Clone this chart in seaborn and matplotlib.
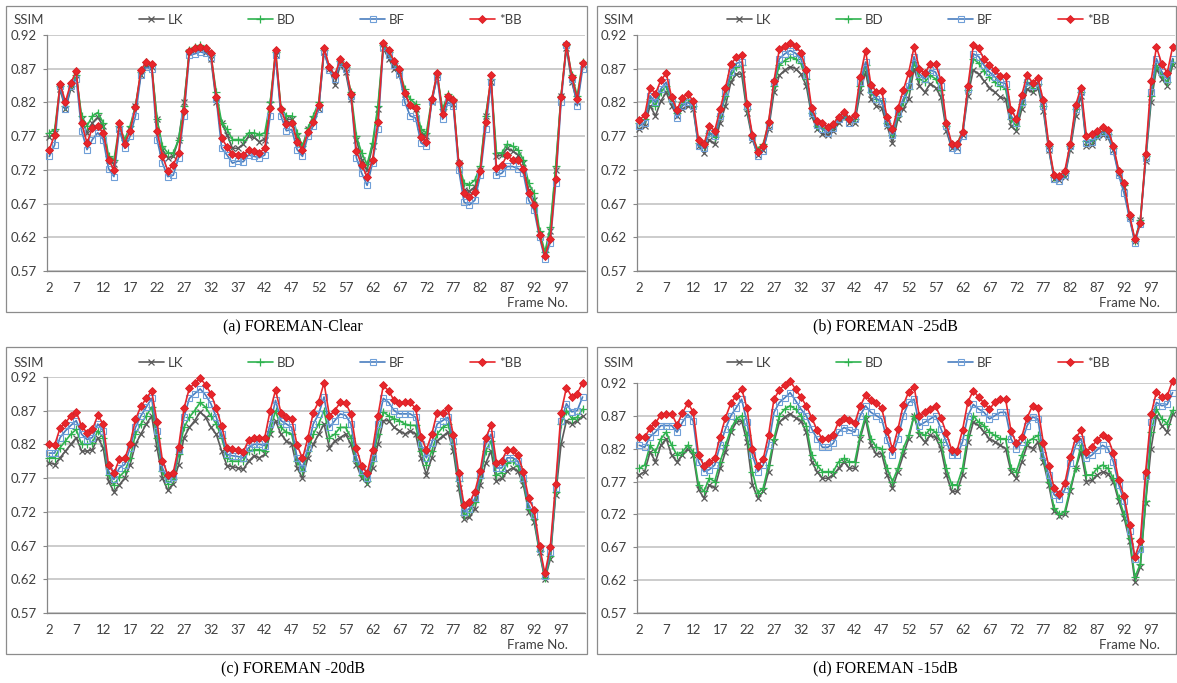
import numpy as np
import pandas as pd
import matplotlib
matplotlib.use("Agg")
import matplotlib.pyplot as plt
from matplotlib.patches import Rectangle
import seaborn as sns

# ---------------- data ----------------
frames = list(range(2, 102))
methods = ["LK", "BD", "BF", "*BB"]
y_ticks = [0.57, 0.62, 0.67, 0.72, 0.77, 0.82, 0.87, 0.92]
x_tick_labels = list(range(2, 101, 5))
captions = ["(a) FOREMAN-Clear", "(b) FOREMAN -25dB", "(c) FOREMAN -20dB", "(d) FOREMAN -15dB"]

A_LK = [0.768, 0.775, 0.840, 0.810, 0.840, 0.860, 0.795, 0.775, 0.790, 0.798,
        0.785, 0.735, 0.728, 0.780, 0.760, 0.780, 0.815, 0.860, 0.875, 0.872,
        0.795, 0.750, 0.738, 0.740, 0.765, 0.820, 0.895, 0.898, 0.900, 0.895,
        0.885, 0.820, 0.790, 0.772, 0.752, 0.752, 0.758, 0.770, 0.768, 0.762,
        0.765, 0.818, 0.890, 0.808, 0.795, 0.795, 0.770, 0.752, 0.780, 0.795,
        0.810, 0.895, 0.870, 0.846, 0.875, 0.865, 0.825, 0.765, 0.735, 0.720,
        0.755, 0.810, 0.900, 0.885, 0.870, 0.860, 0.832, 0.815, 0.810, 0.775,
        0.770, 0.820, 0.860, 0.805, 0.825, 0.818, 0.730, 0.690, 0.688, 0.695,
        0.720, 0.800, 0.850, 0.740, 0.742, 0.752, 0.748, 0.742, 0.730, 0.690,
        0.675, 0.625, 0.595, 0.630, 0.720, 0.830, 0.900, 0.850, 0.820, 0.875]
A_BD = [0.775, 0.780, 0.845, 0.815, 0.845, 0.860, 0.800, 0.785, 0.800, 0.805,
        0.790, 0.740, 0.735, 0.785, 0.765, 0.785, 0.815, 0.865, 0.880, 0.875,
        0.795, 0.755, 0.745, 0.745, 0.765, 0.815, 0.898, 0.902, 0.905, 0.900,
        0.890, 0.835, 0.790, 0.780, 0.765, 0.765, 0.765, 0.775, 0.775, 0.772,
        0.775, 0.820, 0.895, 0.812, 0.800, 0.800, 0.775, 0.755, 0.782, 0.800,
        0.820, 0.898, 0.872, 0.860, 0.882, 0.872, 0.835, 0.770, 0.745, 0.728,
        0.760, 0.815, 0.905, 0.895, 0.878, 0.868, 0.840, 0.825, 0.818, 0.780,
        0.775, 0.825, 0.862, 0.810, 0.832, 0.825, 0.730, 0.700, 0.698, 0.705,
        0.725, 0.800, 0.855, 0.745, 0.745, 0.758, 0.755, 0.750, 0.735, 0.700,
        0.685, 0.630, 0.598, 0.635, 0.725, 0.830, 0.905, 0.860, 0.830, 0.880]
A_BF = [0.740, 0.757, 0.845, 0.810, 0.845, 0.855, 0.778, 0.750, 0.765, 0.775,
        0.765, 0.722, 0.710, 0.780, 0.752, 0.770, 0.800, 0.860, 0.872, 0.870,
        0.765, 0.730, 0.710, 0.712, 0.738, 0.800, 0.890, 0.892, 0.895, 0.893,
        0.888, 0.825, 0.752, 0.742, 0.730, 0.733, 0.732, 0.742, 0.740, 0.738,
        0.742, 0.800, 0.890, 0.800, 0.778, 0.780, 0.750, 0.740, 0.770, 0.785,
        0.810, 0.895, 0.868, 0.855, 0.878, 0.870, 0.830, 0.738, 0.715, 0.697,
        0.730, 0.780, 0.902, 0.890, 0.875, 0.862, 0.820, 0.800, 0.797, 0.760,
        0.755, 0.822, 0.858, 0.795, 0.820, 0.815, 0.720, 0.672, 0.668, 0.675,
        0.712, 0.780, 0.850, 0.712, 0.715, 0.725, 0.725, 0.722, 0.715, 0.675,
        0.660, 0.620, 0.588, 0.612, 0.700, 0.820, 0.905, 0.855, 0.815, 0.870]
A_BB = [0.750, 0.772, 0.848, 0.821, 0.849, 0.866, 0.789, 0.760, 0.782, 0.785,
        0.775, 0.735, 0.720, 0.790, 0.759, 0.778, 0.813, 0.868, 0.880, 0.877,
        0.777, 0.740, 0.719, 0.727, 0.745, 0.808, 0.897, 0.900, 0.902, 0.900,
        0.893, 0.828, 0.767, 0.754, 0.743, 0.742, 0.742, 0.750, 0.748, 0.745,
        0.752, 0.811, 0.898, 0.810, 0.788, 0.790, 0.762, 0.750, 0.776, 0.791,
        0.816, 0.901, 0.873, 0.860, 0.884, 0.875, 0.833, 0.748, 0.727, 0.710,
        0.735, 0.791, 0.908, 0.898, 0.881, 0.870, 0.834, 0.816, 0.811, 0.769,
        0.762, 0.825, 0.864, 0.803, 0.829, 0.823, 0.730, 0.686, 0.680, 0.687,
        0.718, 0.791, 0.861, 0.723, 0.727, 0.742, 0.734, 0.735, 0.721, 0.685,
        0.668, 0.623, 0.592, 0.617, 0.707, 0.828, 0.906, 0.858, 0.825, 0.878]

B_LK = [0.780, 0.785, 0.815, 0.800, 0.822, 0.835, 0.815, 0.800, 0.810, 0.815,
        0.810, 0.755, 0.745, 0.765, 0.758, 0.790, 0.815, 0.850, 0.862, 0.862,
        0.805, 0.765, 0.742, 0.750, 0.780, 0.835, 0.860, 0.868, 0.873, 0.870,
        0.862, 0.845, 0.800, 0.780, 0.773, 0.772, 0.778, 0.790, 0.797, 0.790,
        0.790, 0.835, 0.865, 0.825, 0.815, 0.812, 0.785, 0.760, 0.795, 0.810,
        0.825, 0.870, 0.845, 0.835, 0.848, 0.842, 0.828, 0.778, 0.752, 0.752,
        0.772, 0.830, 0.868, 0.862, 0.852, 0.842, 0.835, 0.828, 0.825, 0.785,
        0.778, 0.810, 0.840, 0.835, 0.842, 0.808, 0.750, 0.707, 0.705, 0.710,
        0.750, 0.800, 0.830, 0.755, 0.757, 0.768, 0.772, 0.768, 0.750, 0.715,
        0.695, 0.650, 0.615, 0.645, 0.733, 0.820, 0.870, 0.855, 0.845, 0.875]
B_BD = [0.790, 0.795, 0.825, 0.815, 0.835, 0.845, 0.822, 0.805, 0.820, 0.825,
        0.815, 0.760, 0.755, 0.775, 0.768, 0.800, 0.830, 0.860, 0.872, 0.875,
        0.810, 0.770, 0.750, 0.758, 0.790, 0.845, 0.875, 0.882, 0.887, 0.885,
        0.878, 0.855, 0.805, 0.785, 0.782, 0.780, 0.785, 0.795, 0.800, 0.795,
        0.795, 0.845, 0.875, 0.835, 0.825, 0.822, 0.790, 0.772, 0.800, 0.820,
        0.840, 0.880, 0.855, 0.850, 0.860, 0.855, 0.838, 0.785, 0.757, 0.758,
        0.778, 0.838, 0.885, 0.878, 0.866, 0.858, 0.850, 0.845, 0.840, 0.795,
        0.785, 0.818, 0.850, 0.842, 0.848, 0.815, 0.755, 0.710, 0.710, 0.715,
        0.755, 0.810, 0.835, 0.763, 0.765, 0.772, 0.777, 0.773, 0.752, 0.718,
        0.698, 0.650, 0.615, 0.645, 0.740, 0.830, 0.875, 0.860, 0.850, 0.880]
B_BF = [0.785, 0.790, 0.830, 0.820, 0.840, 0.850, 0.825, 0.797, 0.815, 0.820,
        0.815, 0.755, 0.752, 0.775, 0.770, 0.800, 0.835, 0.865, 0.878, 0.880,
        0.815, 0.768, 0.740, 0.748, 0.785, 0.850, 0.885, 0.892, 0.897, 0.893,
        0.885, 0.860, 0.805, 0.787, 0.780, 0.775, 0.782, 0.795, 0.800, 0.790,
        0.795, 0.850, 0.880, 0.838, 0.825, 0.822, 0.790, 0.772, 0.805, 0.825,
        0.845, 0.888, 0.862, 0.855, 0.868, 0.865, 0.845, 0.785, 0.752, 0.750,
        0.770, 0.840, 0.892, 0.888, 0.875, 0.865, 0.858, 0.850, 0.848, 0.800,
        0.790, 0.820, 0.850, 0.845, 0.850, 0.815, 0.753, 0.707, 0.703, 0.712,
        0.755, 0.810, 0.835, 0.760, 0.762, 0.772, 0.776, 0.772, 0.748, 0.712,
        0.685, 0.648, 0.612, 0.640, 0.738, 0.835, 0.885, 0.865, 0.855, 0.885]
B_BB = [0.794, 0.801, 0.842, 0.833, 0.853, 0.863, 0.828, 0.809, 0.827, 0.833,
        0.822, 0.764, 0.758, 0.785, 0.778, 0.810, 0.842, 0.877, 0.887, 0.890,
        0.818, 0.772, 0.747, 0.756, 0.791, 0.852, 0.899, 0.903, 0.908, 0.904,
        0.894, 0.868, 0.811, 0.793, 0.789, 0.784, 0.788, 0.799, 0.806, 0.796,
        0.801, 0.858, 0.897, 0.846, 0.836, 0.837, 0.798, 0.781, 0.811, 0.838,
        0.864, 0.902, 0.870, 0.863, 0.877, 0.877, 0.853, 0.789, 0.759, 0.758,
        0.776, 0.844, 0.905, 0.900, 0.884, 0.875, 0.868, 0.859, 0.859, 0.809,
        0.796, 0.831, 0.861, 0.849, 0.856, 0.823, 0.758, 0.712, 0.711, 0.719,
        0.759, 0.816, 0.842, 0.770, 0.773, 0.778, 0.783, 0.779, 0.756, 0.719,
        0.700, 0.653, 0.617, 0.641, 0.743, 0.852, 0.902, 0.877, 0.864, 0.902]

C_LK = [0.793, 0.790, 0.800, 0.810, 0.820, 0.830, 0.810, 0.810, 0.812, 0.830,
        0.815, 0.765, 0.750, 0.760, 0.770, 0.790, 0.820, 0.835, 0.850, 0.862,
        0.815, 0.770, 0.752, 0.762, 0.790, 0.830, 0.845, 0.855, 0.868, 0.860,
        0.845, 0.835, 0.810, 0.788, 0.787, 0.785, 0.783, 0.795, 0.803, 0.800,
        0.805, 0.835, 0.855, 0.835, 0.825, 0.820, 0.785, 0.770, 0.800, 0.820,
        0.835, 0.850, 0.815, 0.825, 0.830, 0.835, 0.820, 0.790, 0.770, 0.762,
        0.785, 0.820, 0.855, 0.855, 0.845, 0.840, 0.835, 0.840, 0.835, 0.800,
        0.775, 0.800, 0.825, 0.832, 0.838, 0.810, 0.755, 0.710, 0.712, 0.725,
        0.760, 0.792, 0.810, 0.765, 0.770, 0.780, 0.785, 0.780, 0.760, 0.720,
        0.705, 0.660, 0.620, 0.650, 0.745, 0.820, 0.855, 0.850, 0.855, 0.862]
C_BD = [0.800, 0.800, 0.815, 0.825, 0.835, 0.842, 0.820, 0.820, 0.822, 0.840,
        0.830, 0.775, 0.760, 0.772, 0.780, 0.800, 0.835, 0.850, 0.862, 0.875,
        0.830, 0.780, 0.762, 0.768, 0.805, 0.845, 0.860, 0.870, 0.882, 0.875,
        0.862, 0.850, 0.830, 0.800, 0.795, 0.795, 0.795, 0.810, 0.812, 0.812,
        0.810, 0.840, 0.870, 0.845, 0.838, 0.835, 0.795, 0.780, 0.810, 0.835,
        0.850, 0.870, 0.830, 0.835, 0.845, 0.845, 0.830, 0.795, 0.775, 0.765,
        0.795, 0.835, 0.868, 0.862, 0.858, 0.855, 0.850, 0.848, 0.848, 0.810,
        0.790, 0.810, 0.835, 0.845, 0.850, 0.820, 0.765, 0.715, 0.720, 0.735,
        0.770, 0.810, 0.825, 0.775, 0.778, 0.792, 0.795, 0.788, 0.765, 0.725,
        0.710, 0.662, 0.622, 0.655, 0.750, 0.850, 0.870, 0.858, 0.860, 0.872]
C_BF = [0.807, 0.807, 0.830, 0.840, 0.848, 0.855, 0.835, 0.827, 0.830, 0.850,
        0.840, 0.780, 0.768, 0.785, 0.790, 0.815, 0.845, 0.862, 0.875, 0.888,
        0.840, 0.785, 0.768, 0.772, 0.812, 0.860, 0.888, 0.895, 0.902, 0.893,
        0.880, 0.860, 0.835, 0.805, 0.803, 0.802, 0.800, 0.815, 0.820, 0.820,
        0.818, 0.850, 0.885, 0.855, 0.850, 0.845, 0.800, 0.785, 0.815, 0.850,
        0.865, 0.890, 0.845, 0.855, 0.865, 0.863, 0.850, 0.800, 0.780, 0.770,
        0.800, 0.850, 0.888, 0.882, 0.870, 0.865, 0.865, 0.865, 0.860, 0.820,
        0.800, 0.822, 0.850, 0.855, 0.860, 0.825, 0.770, 0.720, 0.725, 0.740,
        0.775, 0.820, 0.835, 0.785, 0.785, 0.800, 0.800, 0.795, 0.770, 0.730,
        0.715, 0.665, 0.625, 0.660, 0.755, 0.855, 0.880, 0.868, 0.870, 0.890]
C_BB = [0.820, 0.819, 0.844, 0.852, 0.862, 0.868, 0.847, 0.837, 0.842, 0.863,
        0.850, 0.789, 0.777, 0.798, 0.799, 0.821, 0.857, 0.876, 0.888, 0.899,
        0.853, 0.796, 0.775, 0.778, 0.816, 0.873, 0.903, 0.910, 0.918, 0.908,
        0.895, 0.873, 0.847, 0.814, 0.813, 0.811, 0.809, 0.826, 0.830, 0.830,
        0.830, 0.870, 0.900, 0.867, 0.860, 0.857, 0.819, 0.799, 0.829, 0.867,
        0.883, 0.911, 0.862, 0.870, 0.882, 0.881, 0.865, 0.814, 0.788, 0.777,
        0.812, 0.862, 0.907, 0.899, 0.885, 0.881, 0.882, 0.882, 0.873, 0.831,
        0.812, 0.835, 0.867, 0.867, 0.873, 0.834, 0.777, 0.730, 0.734, 0.750,
        0.781, 0.829, 0.848, 0.793, 0.796, 0.812, 0.811, 0.804, 0.779, 0.740,
        0.723, 0.669, 0.629, 0.668, 0.762, 0.867, 0.904, 0.890, 0.895, 0.911]

D_LK = [0.780, 0.785, 0.815, 0.800, 0.825, 0.835, 0.810, 0.800, 0.810, 0.820,
        0.810, 0.758, 0.745, 0.765, 0.760, 0.790, 0.815, 0.845, 0.860, 0.862,
        0.830, 0.765, 0.745, 0.755, 0.785, 0.830, 0.860, 0.868, 0.873, 0.867,
        0.862, 0.845, 0.800, 0.785, 0.775, 0.775, 0.780, 0.790, 0.800, 0.790,
        0.790, 0.835, 0.865, 0.825, 0.812, 0.812, 0.780, 0.760, 0.785, 0.810,
        0.835, 0.870, 0.840, 0.830, 0.840, 0.837, 0.820, 0.780, 0.755, 0.755,
        0.780, 0.830, 0.860, 0.855, 0.845, 0.835, 0.830, 0.825, 0.820, 0.785,
        0.775, 0.800, 0.825, 0.820, 0.830, 0.800, 0.765, 0.725, 0.718, 0.720,
        0.755, 0.790, 0.815, 0.770, 0.772, 0.780, 0.785, 0.782, 0.770, 0.740,
        0.715, 0.680, 0.618, 0.640, 0.738, 0.820, 0.870, 0.855, 0.845, 0.872]
D_BD = [0.790, 0.795, 0.825, 0.815, 0.835, 0.845, 0.825, 0.810, 0.815, 0.825,
        0.815, 0.765, 0.755, 0.775, 0.770, 0.800, 0.825, 0.850, 0.865, 0.870,
        0.840, 0.785, 0.752, 0.760, 0.795, 0.835, 0.870, 0.880, 0.885, 0.880,
        0.870, 0.855, 0.810, 0.795, 0.785, 0.785, 0.785, 0.800, 0.805, 0.800,
        0.800, 0.840, 0.870, 0.835, 0.822, 0.820, 0.790, 0.770, 0.790, 0.820,
        0.840, 0.870, 0.845, 0.840, 0.850, 0.845, 0.830, 0.790, 0.765, 0.765,
        0.790, 0.840, 0.870, 0.860, 0.855, 0.845, 0.840, 0.835, 0.835, 0.790,
        0.785, 0.810, 0.830, 0.835, 0.840, 0.805, 0.770, 0.730, 0.720, 0.725,
        0.760, 0.790, 0.825, 0.780, 0.780, 0.790, 0.795, 0.790, 0.775, 0.745,
        0.720, 0.685, 0.625, 0.645, 0.740, 0.845, 0.880, 0.865, 0.858, 0.878]
D_BF = [0.825, 0.822, 0.838, 0.845, 0.855, 0.855, 0.855, 0.845, 0.860, 0.872,
        0.862, 0.800, 0.785, 0.788, 0.795, 0.825, 0.850, 0.870, 0.882, 0.895,
        0.860, 0.810, 0.785, 0.795, 0.825, 0.875, 0.890, 0.897, 0.905, 0.893,
        0.880, 0.870, 0.850, 0.835, 0.822, 0.822, 0.828, 0.845, 0.852, 0.848,
        0.845, 0.870, 0.885, 0.875, 0.870, 0.865, 0.833, 0.810, 0.835, 0.870,
        0.890, 0.895, 0.855, 0.860, 0.865, 0.870, 0.850, 0.830, 0.810, 0.810,
        0.830, 0.870, 0.887, 0.880, 0.875, 0.865, 0.870, 0.875, 0.875, 0.835,
        0.820, 0.830, 0.855, 0.868, 0.865, 0.810, 0.780, 0.750, 0.743, 0.758,
        0.798, 0.825, 0.835, 0.805, 0.810, 0.818, 0.825, 0.820, 0.800, 0.765,
        0.740, 0.695, 0.652, 0.668, 0.778, 0.860, 0.890, 0.885, 0.887, 0.905]
D_BB = [0.837, 0.837, 0.851, 0.859, 0.871, 0.873, 0.873, 0.856, 0.874, 0.889,
        0.876, 0.810, 0.794, 0.799, 0.805, 0.838, 0.867, 0.889, 0.900, 0.911,
        0.881, 0.820, 0.794, 0.804, 0.841, 0.895, 0.909, 0.917, 0.923, 0.910,
        0.898, 0.885, 0.867, 0.848, 0.834, 0.836, 0.841, 0.861, 0.867, 0.863,
        0.859, 0.884, 0.901, 0.893, 0.889, 0.881, 0.847, 0.819, 0.849, 0.886,
        0.906, 0.914, 0.869, 0.876, 0.880, 0.884, 0.867, 0.843, 0.818, 0.817,
        0.848, 0.891, 0.908, 0.898, 0.889, 0.880, 0.890, 0.895, 0.895, 0.847,
        0.828, 0.838, 0.867, 0.885, 0.881, 0.829, 0.794, 0.760, 0.751, 0.768,
        0.807, 0.836, 0.848, 0.815, 0.823, 0.833, 0.841, 0.836, 0.813, 0.772,
        0.748, 0.704, 0.656, 0.679, 0.785, 0.872, 0.906, 0.898, 0.900, 0.923]

panel_data = [
    {"LK": A_LK, "BD": A_BD, "BF": A_BF, "*BB": A_BB},
    {"LK": B_LK, "BD": B_BD, "BF": B_BF, "*BB": B_BB},
    {"LK": C_LK, "BD": C_BD, "BF": C_BF, "*BB": C_BB},
    {"LK": D_LK, "BD": D_BD, "BF": D_BF, "*BB": D_BB},
]

# ---------------- style ----------------
sns.set_style("white")
plt.rcParams["font.family"] = ["Lato", "DejaVu Sans"]

W, H = 1177, 683
fig = plt.figure(figsize=(W / 100, H / 100), dpi=100)
fig.patch.set_facecolor("white")

styles = {
    "LK": dict(color="#5a5a5a", marker="x", markersize=4.5, markeredgewidth=0.9,
               markeredgecolor="#5a5a5a", markerfacecolor="#5a5a5a"),
    "BD": dict(color="#2fb34f", marker="+", markersize=5.5, markeredgewidth=0.9,
               markeredgecolor="#2fb34f", markerfacecolor="#2fb34f"),
    "BF": dict(color="#4a7ebf", marker="s", markersize=4, markeredgewidth=0.8,
               markeredgecolor="#6f9fd8", markerfacecolor="none"),
    "*BB": dict(color="#e8262b", marker="D", markersize=4, markeredgewidth=0.6,
                markeredgecolor="#d81e24", markerfacecolor="#e8262b"),
}

TXT = "#404040"
AXC = "#868686"
FS = 9.5

# pixel layouts: axes (l, t, r, b), box (l, t, r, b), caption (x, y), legend (x, y), ssim (x,y), frame (x,y)
layouts = [
    dict(ax=(46.6, 35, 585.3, 271), box=(6, 6, 587, 312), cap=(293, 326),
         leg=(330, 20), ssim=(29, 20), fno=(537, 303)),
    dict(ax=(636.6, 35, 1175.3, 271), box=(596.5, 6, 1176.3, 312), cap=(885, 326),
         leg=(918, 20), ssim=(619, 20), fno=(1129, 303)),
    dict(ax=(46.6, 376.7, 585.3, 613.3), box=(6, 347, 587, 654), cap=(293, 668),
         leg=(330, 362.7), ssim=(29, 362.7), fno=(537, 645)),
    dict(ax=(636.6, 382.7, 1175.3, 613.3), box=(596.5, 347, 1176.3, 654), cap=(885, 668),
         leg=(918, 362.7), ssim=(619, 362.7), fno=(1129, 645)),
]


def fx(px):
    return px / W


def fy(py):
    return 1 - py / H


for i, lay in enumerate(layouts):
    l, t, r, b = lay["ax"]
    ax = fig.add_axes([fx(l), fy(b), (r - l) / W, (b - t) / H])
    ax.set_facecolor("none")

    df = pd.DataFrame({"frame": frames})
    handles = []
    for m in methods:
        df[m] = panel_data[i][m]
        sns.lineplot(data=df, x="frame", y=m, ax=ax, linewidth=1.2, clip_on=False,
                     label=m, errorbar=None, zorder=3, **styles[m])
        handles.append(ax.lines[-1])

    ax.set_xlim(1.5, 101.5)
    ax.set_ylim(0.57, 0.92)
    ax.set_yticks(y_ticks)
    ax.set_yticklabels([f"{v:.2f}" for v in y_ticks])
    ax.set_xticks(x_tick_labels)
    ax.set_xticklabels([str(v) for v in x_tick_labels])
    ax.set_xticks(np.arange(1.5, 102, 1.0), minor=True)
    ax.tick_params(axis="x", which="major", length=0, pad=8, labelsize=FS, labelcolor=TXT)
    ax.tick_params(axis="x", which="minor", length=3, width=0.8, color=AXC, direction="out")
    ax.tick_params(axis="y", which="major", length=3, width=0.8, color=AXC, direction="out",
                   pad=4, labelsize=FS, labelcolor=TXT, left=True)
    ax.set_xlabel("")
    ax.set_ylabel("")
    ax.grid(axis="y", color="#c4c4c4", linewidth=1.2, zorder=0)
    ax.grid(axis="x", visible=False)
    ax.set_axisbelow(True)
    for s in ["top", "right"]:
        ax.spines[s].set_visible(False)
    for s in ["left", "bottom"]:
        ax.spines[s].set_color(AXC)
        ax.spines[s].set_linewidth(0.9)
        ax.spines[s].set_zorder(2)

    if ax.get_legend() is not None:
        ax.get_legend().remove()
    fig.legend(handles, methods, loc="center",
               bbox_to_anchor=(fx(lay["leg"][0]), fy(lay["leg"][1])),
               bbox_transform=fig.transFigure, ncol=4, frameon=False,
               fontsize=FS, handlelength=1.9, handletextpad=0.3,
               columnspacing=4.9, numpoints=1, labelcolor=TXT,
               borderpad=0.0)

    fig.text(fx(lay["ssim"][0]), fy(lay["ssim"][1]), "SSIM", ha="center", va="center",
             fontsize=FS, color=TXT)
    fig.text(fx(lay["fno"][0]), fy(lay["fno"][1]), "Frame No.", ha="center", va="center",
             fontsize=FS, color=TXT)

    bl, bt, br, bb = lay["box"]
    fig.add_artist(Rectangle((fx(bl), fy(bb)), (br - bl) / W, (bb - bt) / H,
                             transform=fig.transFigure, fill=False,
                             edgecolor="#8c8c8c", linewidth=0.9))

    fig.text(fx(lay["cap"][0]), fy(lay["cap"][1]), captions[i], ha="center", va="center",
             fontsize=11.5, color="black", family=["Liberation Serif", "DejaVu Serif"])

fig.savefig("out.png", dpi=100, facecolor="white")
